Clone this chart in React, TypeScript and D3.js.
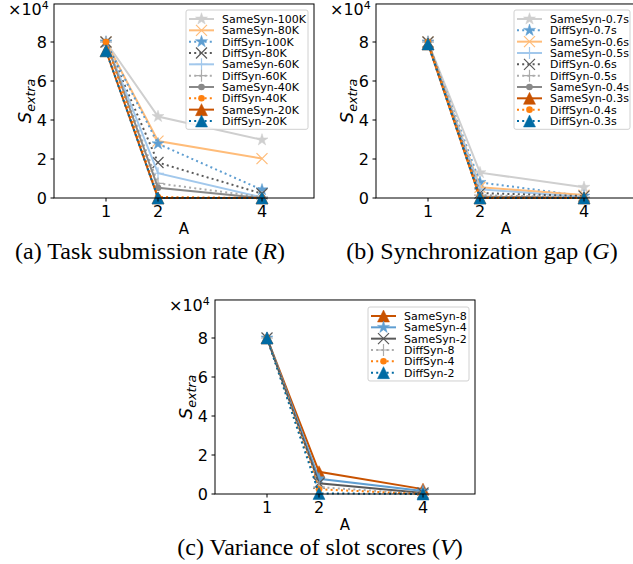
import React from 'react';
import * as d3 from 'd3';

// shared axis values
const xTicks = [1, 2, 4];
const yTicks = [0, 2, 4, 6, 8];

// (a) Task submission rate, values in units of 1e4
const aLabels = ['SameSyn-100K', 'SameSyn-80K', 'DiffSyn-100K', 'DiffSyn-80K', 'SameSyn-60K', 'DiffSyn-60K', 'SameSyn-40K', 'DiffSyn-40K', 'SameSyn-20K', 'DiffSyn-20K'];
const aSame100K = [8.0, 4.18, 2.98];
const aSame80K = [8.0, 2.92, 2.02];
const aDiff100K = [8.0, 2.78, 0.42];
const aDiff80K = [8.0, 1.82, 0.22];
const aSame60K = [8.0, 1.27, 0.03];
const aDiff60K = [8.0, 0.75, 0.05];
const aSame40K = [8.0, 0.52, 0.0];
const aDiff40K = [8.0, 0.05, 0.0];
const aSame20K = [7.55, 0.0, 0.0];
const aDiff20K = [7.55, 0.0, 0.0];

// (b) Synchronization gap
const bLabels = ['SameSyn-0.7s', 'DiffSyn-0.7s', 'SameSyn-0.6s', 'SameSyn-0.5s', 'DiffSyn-0.6s', 'DiffSyn-0.5s', 'SameSyn-0.4s', 'SameSyn-0.3s', 'DiffSyn-0.4s', 'DiffSyn-0.3s'];
const bSame07 = [8.0, 1.3, 0.55];
const bDiff07 = [8.0, 0.8, 0.1];
const bSame06 = [8.0, 0.55, 0.15];
const bSame05 = [8.0, 0.45, 0.05];
const bDiff06 = [8.0, 0.25, 0.1];
const bDiff05 = [8.0, 0.15, 0.03];
const bSame04 = [8.0, 0.08, 0.0];
const bSame03 = [7.9, 0.0, 0.0];
const bDiff04 = [8.0, 0.03, 0.0];
const bDiff03 = [7.9, 0.0, 0.0];

// (c) Variance of slot scores
const cLabels = ['SameSyn-8', 'SameSyn-4', 'SameSyn-2', 'DiffSyn-8', 'DiffSyn-4', 'DiffSyn-2'];
const cSame8 = [8.0, 1.14, 0.25];
const cSame4 = [8.0, 0.78, 0.15];
const cSame2 = [8.0, 0.55, 0.05];
const cDiff8 = [8.0, 0.35, 0.0];
const cDiff4 = [8.0, 0.24, 0.0];
const cDiff2 = [8.0, 0.03, 0.0];

const FONT = 'DejaVu Sans';
const SERIF = 'Liberation Serif';

type Marker = 'star' | 'x' | 'plus' | 'circle' | 'tri';
type Series = { label: string; values: number[]; color: string; marker: Marker; dotted: boolean };

const mk = (label: string, values: number[], color: string, marker: Marker, dotted: boolean): Series => ({ label, values, color, marker, dotted });

const aSeries: Series[] = [
  mk(aLabels[0], aSame100K, '#CFCFCF', 'star', false),
  mk(aLabels[1], aSame80K, '#FFBC79', 'x', false),
  mk(aLabels[2], aDiff100K, '#5F9ED1', 'star', true),
  mk(aLabels[3], aDiff80K, '#595959', 'x', true),
  mk(aLabels[4], aSame60K, '#A2C8EC', 'plus', false),
  mk(aLabels[5], aDiff60K, '#ABABAB', 'plus', true),
  mk(aLabels[6], aSame40K, '#898989', 'circle', false),
  mk(aLabels[7], aDiff40K, '#FF800E', 'circle', true),
  mk(aLabels[8], aSame20K, '#C85200', 'tri', false),
  mk(aLabels[9], aDiff20K, '#006BA4', 'tri', true),
];

const bSeries: Series[] = [
  mk(bLabels[0], bSame07, '#CFCFCF', 'star', false),
  mk(bLabels[1], bDiff07, '#5F9ED1', 'star', true),
  mk(bLabels[2], bSame06, '#FFBC79', 'x', false),
  mk(bLabels[3], bSame05, '#A2C8EC', 'plus', false),
  mk(bLabels[4], bDiff06, '#595959', 'x', true),
  mk(bLabels[5], bDiff05, '#ABABAB', 'plus', true),
  mk(bLabels[6], bSame04, '#898989', 'circle', false),
  mk(bLabels[7], bSame03, '#C85200', 'tri', false),
  mk(bLabels[8], bDiff04, '#FF800E', 'circle', true),
  mk(bLabels[9], bDiff03, '#006BA4', 'tri', true),
];

const cSeries: Series[] = [
  mk(cLabels[0], cSame8, '#C85200', 'tri', false),
  mk(cLabels[1], cSame4, '#5F9ED1', 'star', false),
  mk(cLabels[2], cSame2, '#595959', 'x', false),
  mk(cLabels[3], cDiff8, '#ABABAB', 'plus', true),
  mk(cLabels[4], cDiff4, '#FF800E', 'circle', true),
  mk(cLabels[5], cDiff2, '#006BA4', 'tri', true),
];

function markerPath(kind: Marker): string {
  if (kind === 'star') {
    const R = 6.3, r = R * 0.382;
    const pts: string[] = [];
    for (let i = 0; i < 10; i++) {
      const a = -Math.PI / 2 + (i * Math.PI) / 5;
      const rr = i % 2 === 0 ? R : r;
      pts.push(`${(rr * Math.cos(a)).toFixed(2)},${(rr * Math.sin(a)).toFixed(2)}`);
    }
    return 'M' + pts.join('L') + 'Z';
  }
  if (kind === 'tri') return 'M0,-6L6,6L-6,6Z';
  if (kind === 'x') return 'M-5.5,-5.5L5.5,5.5M-5.5,5.5L5.5,-5.5';
  if (kind === 'plus') return 'M-6,0L6,0M0,-6L0,6';
  return '';
}

function MarkerGlyph({ s, x, y }: { s: Series; x: number; y: number }) {
  if (s.marker === 'circle') return <circle cx={x} cy={y} r={3.3} fill={s.color} />;
  const stroke = s.marker === 'x' || s.marker === 'plus';
  return (
    <path
      d={markerPath(s.marker)}
      transform={`translate(${x},${y})`}
      fill={stroke ? 'none' : s.color}
      stroke={s.color}
      strokeWidth={stroke ? 1.2 : 0.5}
    />
  );
}

type PanelProps = {
  series: Series[];
  left: number;
  bottom: number;
  legendX: number;
  legendY: number;
  legendW: number;
  caption: React.ReactNode;
  captionX: number;
};

const WIDTH = 260;
const PX_PER_UNIT = 19.5;
const Y_MAX = 9.95;

function Panel({ series, left, bottom, legendX, legendY, legendW, caption, captionX }: PanelProps) {
  const x = d3.scaleLinear().domain([0, 5]).range([left, left + WIDTH]);
  const y = d3.scaleLinear().domain([0, Y_MAX]).range([bottom, bottom - Y_MAX * PX_PER_UNIT]);
  const top = y(Y_MAX);
  const line = d3
    .line<number>()
    .x((_, i) => x(xTicks[i]))
    .y(d => y(d));
  const rowH = 11.33;
  const legendH = series.length * rowH + 6;

  return (
    <g>
      {series.map(s => (
        <g key={s.label}>
          <path
            d={line(s.values) || ''}
            fill="none"
            stroke={s.color}
            strokeWidth={2}
            strokeDasharray={s.dotted ? '2,3.2' : undefined}
          />
          {s.values.map((v, i) => (
            <MarkerGlyph key={i} s={s} x={x(xTicks[i])} y={y(v)} />
          ))}
        </g>
      ))}
      <rect x={left} y={top} width={WIDTH} height={bottom - top} fill="none" stroke="#000" strokeWidth={1} />
      {yTicks.map(t => (
        <g key={t}>
          <line x1={left - 3.5} x2={left} y1={y(t)} y2={y(t)} stroke="#000" />
          <text x={left - 7} y={y(t)} dy="0.36em" textAnchor="end" fontFamily={FONT} fontSize={16}>
            {t}
          </text>
        </g>
      ))}
      {xTicks.map(t => (
        <g key={t}>
          <line x1={x(t)} x2={x(t)} y1={bottom} y2={bottom + 3.5} stroke="#000" />
          <text x={x(t)} y={bottom + 19} textAnchor="middle" fontFamily={FONT} fontSize={16}>
            {t}
          </text>
        </g>
      ))}
      <text x={left + WIDTH / 2} y={bottom + 36} textAnchor="middle" fontFamily={FONT} fontSize={15}>
        A
      </text>
      <text x={left - 46} y={top + 11} fontFamily={FONT} fontSize={16}>
        ×10<tspan dy={-6} fontSize={11}>4</tspan>
      </text>
      <text
        transform={`translate(${left - 23},${(top + bottom) / 2}) rotate(-90)`}
        textAnchor="middle"
        fontFamily={FONT}
        fontSize={18}
      >
        <tspan fontStyle="italic">S</tspan>
        <tspan fontStyle="italic" fontSize={12.6} dy={3.5}>extra</tspan>
      </text>

      <rect x={legendX} y={legendY} width={legendW} height={legendH} rx={2} fill="#fff" fillOpacity={0.8} stroke="#d0d0d0" />
      {series.map((s, i) => {
        const cy = legendY + 9 + i * rowH;
        const hx = legendX + 3;
        return (
          <g key={s.label}>
            <line x1={hx} x2={hx + 25} y1={cy} y2={cy} stroke={s.color} strokeWidth={2} strokeDasharray={s.dotted ? '2,3.2' : undefined} />
            <MarkerGlyph s={s} x={hx + 12.5} y={cy} />
            <text x={hx + 33} y={cy} dy="0.36em" fontFamily={FONT} fontSize={11}>
              {s.label}
            </text>
          </g>
        );
      })}

      <text x={captionX} y={bottom + 61} textAnchor="middle" fontFamily={SERIF} fontSize={24}>
        {caption}
      </text>
    </g>
  );
}

export default function App() {
  return (
    <svg width={633} height={564} style={{ position: 'absolute', left: 0, top: 0, background: '#fff' }}>
      <Panel
        series={aSeries}
        left={54}
        bottom={198}
        legendX={186}
        legendY={10}
        legendW={122}
        captionX={150}
        caption={<>(a) Task submission rate (<tspan fontStyle="italic">R</tspan>)</>}
      />
      <Panel
        series={bSeries}
        left={376}
        bottom={198}
        legendX={514}
        legendY={10}
        legendW={116}
        captionX={482}
        caption={<>(b) Synchronization gap (<tspan fontStyle="italic">G</tspan>)</>}
      />
      <Panel
        series={cSeries}
        left={215}
        bottom={494}
        legendX={368}
        legendY={307}
        legendW={101}
        captionX={320}
        caption={<>(c) Variance of slot scores (<tspan fontStyle="italic">V</tspan>)</>}
      />
    </svg>
  );
}
